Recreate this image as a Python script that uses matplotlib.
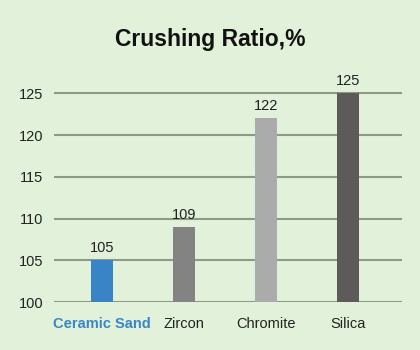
import matplotlib.pyplot as plt

materials = ["Ceramic Sand", "Zircon", "Chromite", "Silica"]
ratios = [105, 109, 122, 125]
bar_colors = ["#3884c6", "#838383", "#ababab", "#5e5a5a"]
y_ticks = [100, 105, 110, 115, 120, 125]

plt.rcParams['font.family'] = ['Liberation Sans', 'DejaVu Sans']
bg = "#e2f1da"

fig = plt.figure(figsize=(4.2, 3.5), dpi=100, facecolor=bg)
ax = fig.add_axes([0.129, 0.137, 0.829, 0.62])
ax.set_facecolor(bg)

pos = range(len(materials))
ax.bar(pos, ratios, width=0.27, color=bar_colors, zorder=3)
for x, v in zip(pos, ratios):
    ax.text(x, v + 0.6, str(v), ha="center", va="bottom", fontsize=10.5, color="#222222")

ax.set_ylim(100, 126)
ax.set_xlim(-0.585, 3.66)
ax.set_yticks(y_ticks)
ax.set_xticks(list(pos))
ax.set_xticklabels(materials, fontsize=10.5)
ax.tick_params(axis="y", labelsize=10.5, length=0, pad=8, labelcolor="#222222")
ax.tick_params(axis="x", length=0, pad=11, labelcolor="#222222")
ax.get_xticklabels()[0].set_color("#3a86c6")
ax.get_xticklabels()[0].set_fontweight("bold")
ax.grid(axis="y", color="#8d9b86", linewidth=1.5, zorder=1)
for s in ax.spines.values():
    s.set_visible(False)

fig.text(0.5, 0.888, "Crushing Ratio,%", ha="center", va="center",
         fontsize=16.5, fontweight="bold", color="#111111")

fig.savefig("out.png", dpi=100, facecolor=bg)
